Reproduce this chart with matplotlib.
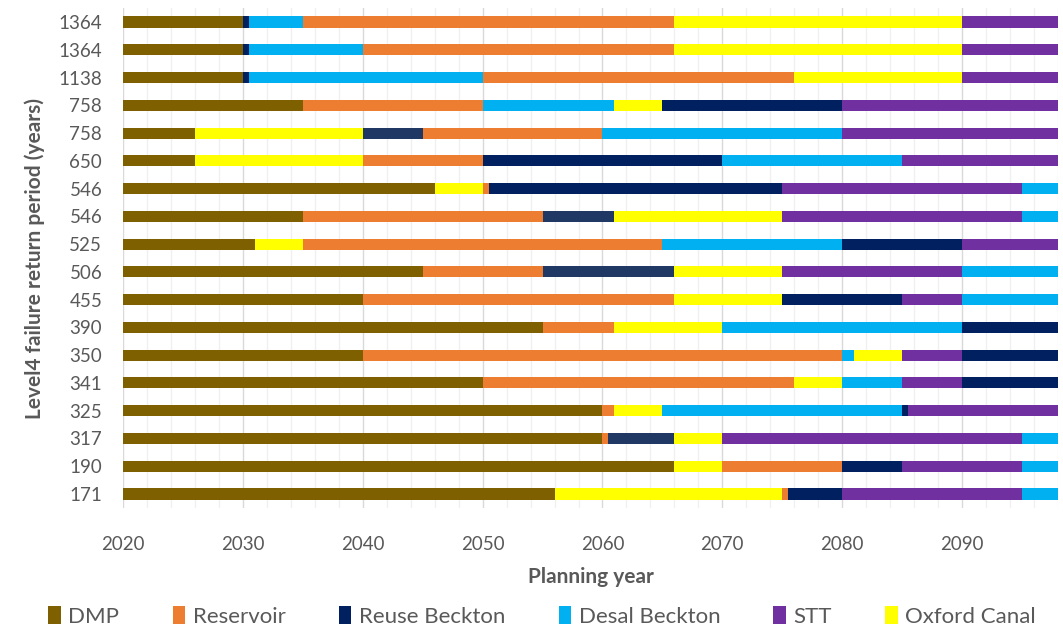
import matplotlib
matplotlib.use("Agg")
import matplotlib.pyplot as plt
from matplotlib.patches import Patch
from matplotlib.ticker import MultipleLocator

plt.rcParams["font.family"] = ["Lato", "DejaVu Sans"]

# Level 4 failure return period for each pathway (top row first)
return_periods = ["1364", "1364", "1138", "758", "758", "650", "546", "546", "525",
                  "506", "455", "390", "350", "341", "325", "317", "190", "171"]

# Option codes in order of adoption for each pathway
option_sequence = [
    ["DMP", "RB", "DB", "RES", "OX", "STT"],
    ["DMP", "RB", "DB", "RES", "OX", "STT"],
    ["DMP", "RB", "DB", "RES", "OX", "STT"],
    ["DMP", "RES", "DB", "OX", "RB", "STT"],
    ["DMP", "OX", "RO", "RES", "DB", "STT"],
    ["DMP", "OX", "RES", "RB", "DB", "STT"],
    ["DMP", "OX", "RES", "RB", "STT", "DB"],
    ["DMP", "RES", "RO", "OX", "STT", "DB"],
    ["DMP", "OX", "RES", "DB", "RB", "STT"],
    ["DMP", "RES", "RO", "OX", "STT", "DB"],
    ["DMP", "RES", "OX", "RB", "STT", "DB"],
    ["DMP", "RES", "OX", "DB", "RB"],
    ["DMP", "RES", "DB", "OX", "STT", "RB"],
    ["DMP", "RES", "OX", "DB", "STT", "RB"],
    ["DMP", "RES", "OX", "DB", "RB", "STT"],
    ["DMP", "RES", "RO", "OX", "STT", "DB"],
    ["DMP", "OX", "RES", "RB", "STT", "DB"],
    ["DMP", "OX", "RES", "RB", "STT", "DB"],
]

# Year at which each option in the sequence is superseded by the next
switch_years = [
    [2030, 2030.5, 2035, 2066, 2090, 2098],
    [2030, 2030.5, 2040, 2066, 2090, 2098],
    [2030, 2030.5, 2050, 2076, 2090, 2098],
    [2035, 2050, 2061, 2065, 2080, 2098],
    [2026, 2040, 2045, 2060, 2080, 2098],
    [2026, 2040, 2050, 2070, 2085, 2098],
    [2046, 2050, 2050.5, 2075, 2095, 2098],
    [2035, 2055, 2061, 2075, 2095, 2098],
    [2031, 2035, 2065, 2080, 2090, 2098],
    [2045, 2055, 2066, 2075, 2090, 2098],
    [2040, 2066, 2075, 2085, 2090, 2098],
    [2055, 2061, 2070, 2090, 2098],
    [2040, 2080, 2081, 2085, 2090, 2098],
    [2050, 2076, 2080, 2085, 2090, 2098],
    [2060, 2061, 2065, 2085, 2085.5, 2098],
    [2060, 2060.5, 2066, 2070, 2095, 2098],
    [2066, 2070, 2080, 2085, 2095, 2098],
    [2056, 2075, 2075.5, 2080, 2095, 2098],
]

start_year = 2020
end_year = 2098

option_codes = ["DMP", "RES", "RB", "DB", "STT", "OX", "RO"]
option_names = ["DMP", "Reservoir", "Reuse Beckton", "Desal Beckton", "STT",
                "Oxford Canal", "Reuse (other)"]
option_colors = ["#7F6000", "#ED7D31", "#002060", "#00B0F0", "#7030A0",
                 "#FFFF00", "#203864"]
legend_codes = ["DMP", "RES", "RB", "DB", "STT", "OX"]

color_of = dict(zip(option_codes, option_colors))
name_of = dict(zip(option_codes, option_names))

fig = plt.figure(figsize=(10.63, 6.27), dpi=100)
ax = fig.add_axes([0.1157, 0.19, 0.8796, 0.797])

n = len(return_periods)
for i, (seq, ends) in enumerate(zip(option_sequence, switch_years)):
    y = n - 1 - i
    left = start_year
    for code, right in zip(seq, ends):
        ax.barh(y, right - left, left=left, height=0.4,
                color=color_of[code], edgecolor="none", zorder=3)
        left = right

ax.set_xlim(start_year, end_year)
ax.set_ylim(-0.5, n - 0.5)
ax.set_yticks(range(n))
ax.set_yticklabels(return_periods[::-1])
ax.xaxis.set_major_locator(MultipleLocator(10))
ax.xaxis.set_minor_locator(MultipleLocator(2))
ax.grid(axis="x", which="major", color="#D9D9D9", linewidth=1.0, zorder=0)
ax.grid(axis="x", which="minor", color="#F0F0F0", linewidth=1.0, zorder=0)
ax.set_axisbelow(True)
for s in ax.spines.values():
    s.set_visible(False)
ax.tick_params(axis="both", which="both", length=0, labelsize=13.5,
               labelcolor="#595959")
ax.tick_params(axis="x", pad=20)
ax.tick_params(axis="y", pad=15)

ax.set_xlabel("Planning year", fontsize=15, fontweight="bold",
              color="#595959", labelpad=10)
ax.set_ylabel("Level4 failure return period (years)", fontsize=15,
              fontweight="bold", color="#595959", labelpad=10)

handles = [Patch(facecolor=color_of[c], edgecolor="none", label=name_of[c])
           for c in legend_codes]
fig.legend(handles=handles, loc="lower left", bbox_to_anchor=(0.033, -0.021),
           ncol=6, frameon=False, fontsize=16, labelcolor="#595959",
           handlelength=0.55, handleheight=0.9, handletextpad=0.35,
           columnspacing=2.4, borderaxespad=0.2)

fig.savefig("out.png", dpi=100)
